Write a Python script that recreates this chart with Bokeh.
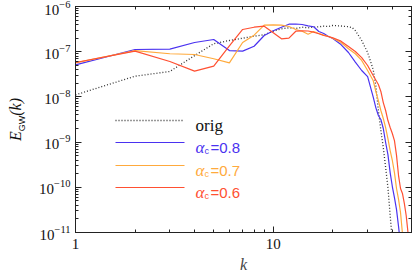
from bokeh.plotting import figure
from bokeh.models import (LogAxis, Label, Arrow, Range1d, CustomJSTickFormatter,
                          FixedTicker, BasicTickFormatter, Div)
from bokeh.layouts import row
from bokeh.embed import file_html
from bokeh.resources import INLINE

# ---------------- data ----------------
k_orig = [1, 2, 3, 4, 5, 6, 7, 8, 9, 10, 11, 12, 13, 14, 15, 16, 17, 18, 19, 20,
          22, 24, 25, 26, 28, 30, 32, 33, 34, 35, 36, 37, 38, 39, 40]
E_orig = [1.11e-8, 2.87e-8, 3.65e-8, 8.2e-8, 1.50e-7, 1.77e-7, 1.99e-7, 2.20e-7, 2.37e-7, 2.84e-7,
          3.21e-7, 3.38e-7, 3.26e-7, 3.48e-7, 3.38e-7, 3.48e-7, 3.56e-7, 3.67e-7, 3.61e-7, 3.80e-7,
          3.70e-7, 3.56e-7, 3.43e-7, 2.94e-7, 1.77e-7, 9.6e-8, 4.04e-8, 1.79e-8, 5.0e-9, 1.81e-9,
          7.6e-10, 2.74e-10, 9.9e-11, 2.38e-11, 6.7e-12]

k_08 = [1, 2, 3, 4, 5, 6, 7, 8, 9, 10, 11, 12, 13, 14, 15, 16, 17, 18, 19, 20,
        22, 24, 26, 28, 30, 32, 33, 34, 35, 36, 37, 38, 39, 40, 41, 42, 43, 44]
E_08 = [5.1e-8, 1.12e-7, 1.14e-7, 1.60e-7, 1.86e-7, 1.06e-7, 1.03e-7, 1.32e-7, 2.28e-7, 2.90e-7,
        3.48e-7, 4.06e-7, 4.10e-7, 4.00e-7, 3.74e-7, 3.56e-7, 2.80e-7, 2.53e-7, 2.17e-7, 1.96e-7,
        1.44e-7, 9.6e-8, 5.9e-8, 3.84e-8, 2.8e-8, 1.0e-8, 5.8e-9, 3.87e-9, 3.16e-9, 2.0e-9,
        9.8e-10, 5.3e-10, 2.12e-10, 1.04e-10, 5.9e-11, 3.2e-11, 1.36e-11, 5.4e-12]

k_07 = [1, 2, 3, 4, 5, 6, 7, 8, 9, 10, 11, 12, 13, 14, 15, 16, 17, 18, 19, 20,
        22, 24, 26, 28, 30, 32, 33, 34, 35, 36, 37, 38, 39, 40, 41, 42, 43, 44, 45, 46]
E_07 = [5.68e-8, 1.06e-7, 9.0e-8, 8.67e-8, 6.97e-8, 5.68e-8, 1.60e-7, 2.32e-7, 3.86e-7, 3.94e-7,
        3.86e-7, 3.61e-7, 3.10e-7, 2.84e-7, 2.44e-7, 2.80e-7, 2.53e-7, 2.32e-7, 2.17e-7, 1.99e-7,
        1.60e-7, 1.16e-7, 9.0e-8, 6.4e-8, 3.84e-8, 2.31e-8, 1.32e-8, 8.3e-9, 5.0e-9, 3.33e-9,
        2.10e-9, 1.20e-9, 6.5e-10, 3.92e-10, 2.12e-10, 9.4e-11, 5.4e-11, 2.77e-11, 9.5e-12, 4.0e-12]

k_06 = [1, 2, 3, 4, 5, 6, 7, 8, 9, 10, 11, 12, 13, 14, 15, 16, 17, 18, 19, 20,
        22, 24, 26, 28, 30, 32, 34, 35, 36, 37, 38, 39, 40, 41, 42, 43, 44, 45, 46, 47, 48, 49]
E_06 = [5.77e-8, 1.03e-7, 6.07e-8, 3.71e-8, 4.78e-8, 1.34e-7, 3.10e-7, 3.48e-7, 3.67e-7, 2.62e-7,
        1.93e-7, 1.99e-7, 2.84e-7, 2.90e-7, 2.87e-7, 2.70e-7, 2.49e-7, 2.28e-7, 2.17e-7, 2.03e-7,
        1.71e-7, 1.30e-7, 1.01e-7, 7.4e-8, 4.95e-8, 2.97e-8, 1.88e-8, 1.32e-8, 7.5e-9, 5.0e-9,
        3.0e-9, 2.10e-9, 1.55e-9, 1.08e-9, 5.1e-10, 1.82e-10, 9.4e-11, 7.3e-11, 4.4e-11, 2.38e-11,
        1.0e-11, 4.0e-12]

series_labels = ["orig", "0.8", "0.7", "0.6"]
colors = ["#333333", "#4a32f0", "#ffaa3c", "#ff5032"]
x_lim = (1, 50)
y_lim = (1e-11, 1e-6)
x_major = [1, 10]
x_minor = [2, 3, 4, 5, 6, 7, 8, 9, 20, 30, 40, 50]

# ---------------- figure ----------------
SERIF = "Liberation Serif"
SANS = "Liberation Sans"
LEFT_W = 30

p = figure(width=415 - LEFT_W, height=277, x_axis_type="log", y_axis_type="log",
           x_range=Range1d(*x_lim), y_range=Range1d(*y_lim),
           output_backend="svg", toolbar_location=None,
           min_border_left=75 - LEFT_W, min_border_right=4, min_border_top=6, min_border_bottom=45)
p.grid.visible = False
p.outline_line_color = "#222222"
p.background_fill_color = "white"
p.border_fill_color = "white"

def style_axis(ax):
    ax.axis_line_color = "#222222"
    ax.major_tick_line_color = "#222222"
    ax.minor_tick_line_color = "#222222"
    ax.major_tick_in = 6
    ax.major_tick_out = 0
    ax.minor_tick_in = 3
    ax.minor_tick_out = 0
    ax.major_label_text_font = SERIF
    ax.major_label_text_font_size = "15px"
    ax.major_label_text_color = "#111111"

for ax in p.xaxis + p.yaxis:
    style_axis(ax)

p.xaxis.ticker = FixedTicker(ticks=x_major, minor_ticks=x_minor)
p.xaxis.formatter = BasicTickFormatter()
p.xaxis.major_label_standoff = 6
p.xaxis.axis_label = "k"
p.xaxis.axis_label_text_font = SERIF
p.xaxis.axis_label_text_font_style = "italic"
p.xaxis.axis_label_text_font_size = "16px"
p.xaxis.axis_label_standoff = 4
p.yaxis.major_label_standoff = 5

blank = CustomJSTickFormatter(code="return ''")
top_ax = LogAxis(formatter=blank, major_label_standoff=0,
                 ticker=FixedTicker(ticks=x_major, minor_ticks=x_minor))
right_ax = LogAxis(formatter=blank, major_label_standoff=0)
style_axis(top_ax)
style_axis(right_ax)
top_ax.major_label_text_font_size = "0px"
right_ax.major_label_text_font_size = "0px"
p.add_layout(top_ax, "above")
p.add_layout(right_ax, "right")

# ---------------- curves ----------------
p.line(k_orig, E_orig, line_color=colors[0], line_width=1.3, line_dash="1 2")
p.line(k_08, E_08, line_color=colors[1], line_width=1.2)
p.line(k_07, E_07, line_color=colors[2], line_width=1.2)
p.line(k_06, E_06, line_color=colors[3], line_width=1.2)

# ---------------- legend (frame-relative screen px) ----------------
leg_x0, leg_x1, leg_tx = 40, 109, 120
leg_y = [112, 90, 67, 45]
dashes = ["1 2", "solid", "solid", "solid"]
for i, lab in enumerate(series_labels):
    p.add_layout(Arrow(end=None, x_start=leg_x0, y_start=leg_y[i], x_end=leg_x1, y_end=leg_y[i],
                       start_units="screen", end_units="screen",
                       line_color=colors[i], line_width=1.3 if i == 0 else 1.2,
                       line_dash=dashes[i]))
    if i == 0:
        p.add_layout(Label(x=leg_tx, y=leg_y[i] - 5, x_units="screen", y_units="screen", text=lab,
                           text_font=SERIF, text_font_size="17px", text_color="#111111",
                           text_baseline="alphabetic", text_align="left"))
    else:
        p.add_layout(Label(x=leg_tx, y=leg_y[i] - 5, x_units="screen", y_units="screen", text="α",
                           text_font=SERIF, text_font_style="italic", text_font_size="17px",
                           text_color=colors[i], text_baseline="alphabetic", text_align="left"))
        p.add_layout(Label(x=leg_tx + 9, y=leg_y[i] - 8, x_units="screen", y_units="screen", text="c",
                           text_font=SANS, text_font_size="9px",
                           text_color=colors[i], text_baseline="alphabetic", text_align="left"))
        p.add_layout(Label(x=leg_tx + 15, y=leg_y[i] - 5, x_units="screen", y_units="screen",
                           text="=" + lab,
                           text_font=SANS, text_font_size="15px",
                           text_color=colors[i], text_baseline="alphabetic", text_align="left"))

# ---------------- y axis label E_GW(k), rotated, as real HTML text ----------------
ylabel_html = (
    '<div style="position:absolute; left:8px; top:141px; transform:rotate(-90deg); '
    'transform-origin:0 0; white-space:nowrap; line-height:16px; color:#111111; '
    "font-family:'Liberation Serif'; font-style:italic; font-size:16px;\">"
    'E<span style="position:relative; top:4px; font-family:\'Liberation Sans\'; '
    'font-style:normal; font-size:9px;">GW</span>(k)</div>'
)
ylab = Div(text=ylabel_html, width=LEFT_W, height=277,
           styles={"position": "relative", "overflow": "visible", "margin": "0", "padding": "0"})

layout = row(ylab, p, spacing=0)
open("out.html", "w").write(file_html(layout, INLINE))
